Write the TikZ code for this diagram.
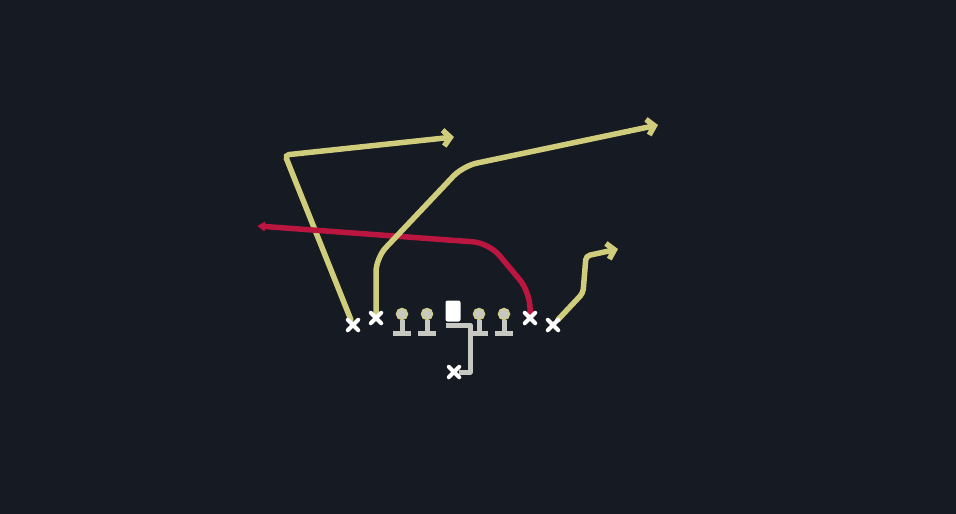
\documentclass[tikz,border=0pt]{standalone}
\usetikzlibrary{arrows.meta}
\definecolor{field}{HTML}{161A23}
\definecolor{route}{HTML}{CFCD7C}
\definecolor{block}{HTML}{BA1640}
\definecolor{chalk}{HTML}{C8C8C3}

\begin{document}
\begin{tikzpicture}[x=1pt, y=-1pt,
    every node/.style = {inner sep=0pt, outer sep=0pt},
    receiver/.style = {shape=rectangle, minimum size=10.5pt},
    lineman/.style = {shape=circle, minimum size=11pt,
      fill=chalk, draw=route!80!chalk, line width=1.5pt},
    snapper/.style = {shape=rectangle, rounded corners=2pt,
      minimum width=15pt, minimum height=21pt, fill=white},
    cross/.style = {white, line width=4pt, line cap=round},
    stem/.style = {chalk, line width=5pt},
    rt/.style = {route, line width=5.5pt, line cap=round,
      rounded corners=4pt, -{Straight Barb[length=7pt,width=16pt]}},
    rb/.style = {block, line width=5.5pt, rounded corners=16pt,
      -{Stealth[round,length=9pt,width=12pt]}}]
  \fill[field] (0,0) rectangle (956,514);
  \useasboundingbox (0,0) rectangle (956,514);

  % skill players
  \node[receiver] (wl) at (353,325) {};
  \node[receiver] (sl) at (376,318) {};
  \node[receiver] (te) at (530,318) {};
  \node[receiver] (wr) at (553,325) {};
  \node[receiver] (qb) at (454,372) {};

  % line
  \node[snapper] (c) at (453,311) {};
  \coordinate (mesh) at (470,325);
  \draw[stem, line join=round] (c.south west |- mesh) -- (mesh) -- (mesh |- qb) -- (qb);
  \foreach \x [count=\i] in {402,427,479,504} {
    \node[lineman] (ol\i) at (\x,314) {};
    \draw[stem] (ol\i.south) -- ++(0,14) ++(-9,0) -- ++(18,0);
  }

  % routes
  \coordinate (p1) at (285,155);
  \coordinate (e1) at (454,137);
  \draw[rt] (wl) -- (p1) -- (e1);

  \coordinate (r1) at (530,292);
  \coordinate (r2) at (489,243);
  \coordinate (e3) at (258,226);
  \draw[rb] ([yshift=-4pt]te.north) -- (r1) -- (r2) -- (e3);

  \coordinate (p2) at (376,258);
  \coordinate (p3) at (463,166);
  \coordinate (e2) at (658,125);
  \draw[rt, rounded corners=14pt] (sl.north) -- (p2) -- (p3) -- (e2);

  \coordinate (p4) at (583,293);
  \coordinate (p5) at (586,256);
  \coordinate (e4) at (618,249);
  \draw[rt] (wr) -- (p4) -- (p5) -- (e4);

  % crosses
  \foreach \n in {wl,sl,te,wr,qb}
    \draw[cross] (\n.north west) -- (\n.south east) (\n.north east) -- (\n.south west);
\end{tikzpicture}
\end{document}
